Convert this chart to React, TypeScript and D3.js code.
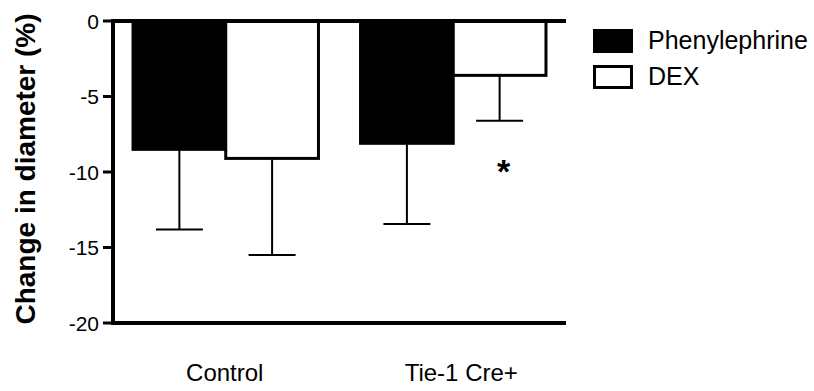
import React from 'react';
import * as d3 from 'd3';

const groups = ['Control', 'Tie-1 Cre+'];
const series = ['Phenylephrine', 'DEX'];
const means = [
  [-8.5, -9.1],
  [-8.1, -3.6],
];
const errs = [
  [5.3, 6.4],
  [5.35, 3.0],
];
const yTicks = [0, -5, -10, -15, -20];
const fills = ['#000', '#fff'];
const labelShift = [-1, 8];

const App = () => {
  const width = 814;
  const height = 391;
  const font = '"Liberation Sans", Arial, sans-serif';

  const y = d3.scaleLinear().domain([-20, 0]).range([323, 21]);
  const x = d3.scaleBand().domain(groups).range([113, 566]).paddingInner(0.185).paddingOuter(0.088);
  const xs = d3.scaleBand().domain(series).range([0, x.bandwidth()]).padding(0);

  const capW = 47;

  return (
    <svg width={width} height={height} style={{ position: 'absolute', left: 0, top: 0 }}>
      <rect width={width} height={height} fill="#fff" />

      {/* bars */}
      {groups.map((g, gi) =>
        series.map((s, si) => {
          const x0 = x(g)! + xs(s)!;
          const bw = xs.bandwidth();
          const v = means[gi][si];
          const cx = x0 + bw / 2;
          return (
            <g key={g + s}>
              <rect x={x0} y={y(0)} width={bw} height={y(v) - y(0)} fill={fills[si]} stroke="#000" strokeWidth={3} />
              <line x1={cx} x2={cx} y1={y(v)} y2={y(v - errs[gi][si])} stroke="#000" strokeWidth={2} />
              <line x1={cx - capW / 2} x2={cx + capW / 2} y1={y(v - errs[gi][si])} y2={y(v - errs[gi][si])} stroke="#000" strokeWidth={2} />
            </g>
          );
        })
      )}

      {/* significance */}
      <text
        x={x('Tie-1 Cre+')! + xs('DEX')! + xs.bandwidth() / 2 + 4}
        y={y(-10.15)}
        fontFamily={font}
        fontWeight="bold"
        fontSize={34}
        textAnchor="middle"
        dominantBaseline="middle"
      >*</text>

      {/* axes */}
      <line x1={113} x2={113} y1={y(0) - 2} y2={y(-20) + 2} stroke="#000" strokeWidth={4} />
      <line x1={113} x2={566} y1={y(0)} y2={y(0)} stroke="#000" strokeWidth={4} />
      <line x1={113} x2={566} y1={y(-20)} y2={y(-20)} stroke="#000" strokeWidth={4} />
      {yTicks.map((t) => (
        <g key={t}>
          <line x1={103} x2={113} y1={y(t)} y2={y(t)} stroke="#000" strokeWidth={3} />
          <text x={99} y={y(t)} dy="0.36em" textAnchor="end" fontFamily={font} fontSize={21}>{t}</text>
        </g>
      ))}

      {groups.map((g, i) => (
        <text key={g} x={x(g)! + x.bandwidth() / 2 + labelShift[i]} y={381} textAnchor="middle" fontFamily={font} fontSize={24}>{g}</text>
      ))}

      <text
        transform={`translate(35,169) rotate(-90)`}
        textAnchor="middle"
        fontFamily={font}
        fontWeight="bold"
        fontSize={28}
      >Change in diameter (%)</text>

      {/* legend */}
      {series.map((s, i) => (
        <g key={s} transform={`translate(593,${29 + i * 36})`}>
          <rect x={1.5} y={1.5} width={37} height={21} fill={fills[i]} stroke="#000" strokeWidth={3} />
          <text x={55} y={20} fontFamily={font} fontSize={25}>{s}</text>
        </g>
      ))}
    </svg>
  );
};

export default App;
